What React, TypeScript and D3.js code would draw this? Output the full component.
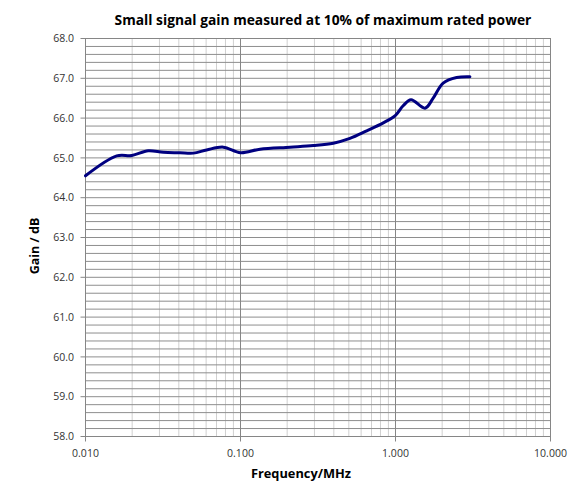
import React from "react";
import * as d3 from "d3";

const freqMHz = [0.01, 0.0159, 0.0199, 0.0254, 0.0318, 0.0407, 0.0496, 0.0605, 0.0774, 0.1, 0.1336, 0.2087, 0.295, 0.397, 0.508, 0.652, 0.834, 1.0, 1.12, 1.26, 1.55, 1.75, 2.03, 2.48, 3.02];
const gainDb = [64.55, 65.05, 65.06, 65.18, 65.14, 65.13, 65.12, 65.2, 65.27, 65.13, 65.22, 65.27, 65.31, 65.37, 65.49, 65.68, 65.88, 66.07, 66.31, 66.46, 66.25, 66.5, 66.88, 67.02, 67.04];
const yTicks = [58, 59, 60, 61, 62, 63, 64, 65, 66, 67, 68];
const xTicks = [0.01, 0.1, 1, 10];

const W = 574, H = 486;
const M = { left: 85.5, right: 550.5, top: 38.5, bottom: 436.5 };
const FONT = "'Open Sans', 'Noto Sans', sans-serif";

export default function App() {
  const x = d3.scaleLog().domain([0.01, 10]).range([M.left, M.right]);
  const y = d3.scaleLinear().domain([58, 68]).range([M.bottom, M.top]);

  const minorX: number[] = [];
  for (let d = 0.01; d < 10; d *= 10) {
    for (let k = 2; k <= 9; k++) minorX.push(+(d * k).toPrecision(3));
  }
  const hLines = d3.range(0, 51).map((i) => 58 + i * 0.2);

  const line = d3
    .line<number>()
    .x((_, i) => x(freqMHz[i]))
    .y((d) => y(d))
    .curve(d3.curveCatmullRom.alpha(0.5));

  return (
    <svg width={W} height={H} style={{ position: "absolute", left: 0, top: 0 }} fontFamily={FONT}>
      <rect width={W} height={H} fill="#fff" />
      {minorX.map((v) => (
        <line key={"mx" + v} x1={x(v)} x2={x(v)} y1={M.top} y2={M.bottom} stroke="#d0d0d0" strokeWidth={1} />
      ))}
      {hLines.map((v, i) => (
        <line key={"h" + i} x1={M.left} x2={M.right} y1={y(v)} y2={y(v)} stroke="#8e8e8e" strokeWidth={1} />
      ))}
      {xTicks.map((v) => (
        <line key={"X" + v} x1={x(v)} x2={x(v)} y1={M.top} y2={M.bottom + 5} stroke="#868686" strokeWidth={1} />
      ))}
      {yTicks.map((v) => (
        <line key={"yt" + v} x1={M.left - 5} x2={M.left} y1={y(v)} y2={y(v)} stroke="#868686" strokeWidth={1} />
      ))}
      <rect x={M.left} y={M.top} width={M.right - M.left} height={M.bottom - M.top} fill="none" stroke="#868686" strokeWidth={1} />
      <path d={line(gainDb) || ""} fill="none" stroke="#000080" strokeWidth={3} strokeLinejoin="round" strokeLinecap="round" />
      {yTicks.map((v) => (
        <text key={"yl" + v} x={74} y={y(v)} dy="0.35em" textAnchor="end" fontSize={10.5} fill="#333">
          {v.toFixed(1)}
        </text>
      ))}
      {xTicks.map((v) => (
        <text key={"xl" + v} x={x(v)} y={453} dy="0.35em" textAnchor="middle" fontSize={10.5} fill="#333">
          {v.toFixed(3)}
        </text>
      ))}
      <text x={323} y={20} dy="0.35em" textAnchor="middle" fontSize={13.8} fontWeight="bold" fill="#000">
        Small signal gain measured at 10% of maximum rated power
      </text>
      <text x={301} y={473.5} dy="0.35em" textAnchor="middle" fontSize={12.8} fontWeight="bold" fill="#000">
        Frequency/MHz
      </text>
      <text transform={`translate(35,246) rotate(-90)`} dy="0.35em" textAnchor="middle" fontSize={12.5} fontWeight="bold" fill="#000">
        Gain / dB
      </text>
    </svg>
  );
}
